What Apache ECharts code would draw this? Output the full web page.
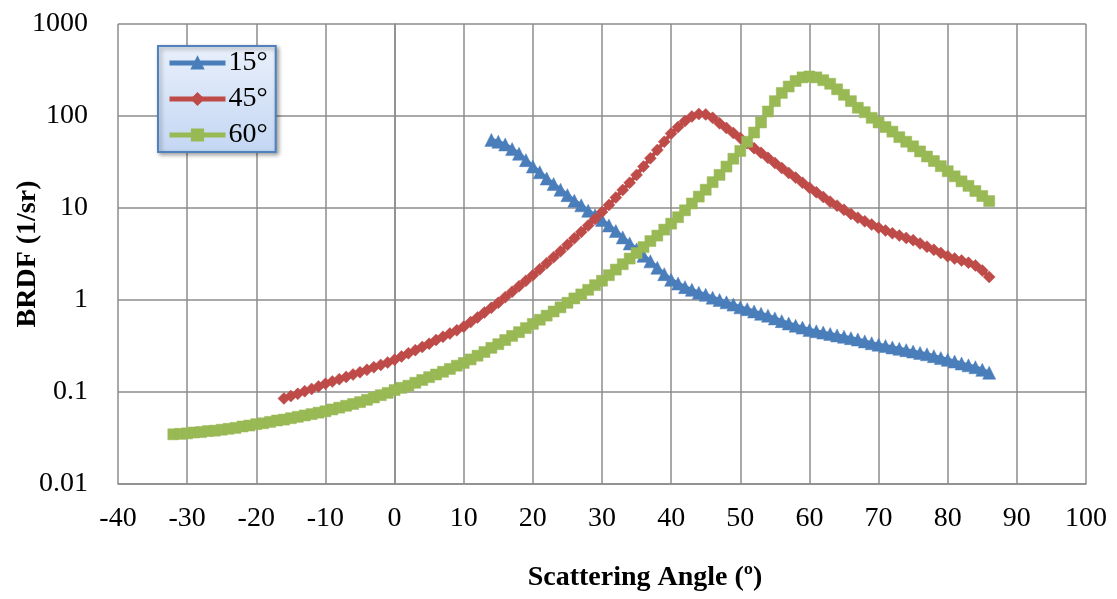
<!DOCTYPE html>
<html>
<head>
<meta charset="utf-8">
<script src="https://cdn.jsdelivr.net/npm/echarts@6/dist/echarts.min.js"></script>
<style>
html,body{margin:0;padding:0;background:#fff;}
#chart{width:1117px;height:599px;}
</style>
</head>
<body>
<div id="chart"></div>
<script>
// ---- data ----
const seriesNames = ['15°', '45°', '60°'];

const angles15 = [14,15,16,17,18,19,20,21,22,23,24,25,26,27,28,29,30,31,32,33,34,35,36,37,38,39,40,41,42,43,44,45,46,47,48,49,50,51,52,53,54,55,56,57,58,59,60,61,62,63,64,65,66,67,68,69,70,71,72,73,74,75,76,77,78,79,80,81,82,83,84,85,86];
const brdf15 = [55.0,52.5,49.0,43.7,38.9,33.1,28.2,24.5,20.9,18.2,15.8,13.8,12.0,10.7,9.33,8.32,7.41,6.46,5.62,4.79,4.12,3.55,3.02,2.63,2.24,1.91,1.66,1.51,1.38,1.29,1.20,1.14,1.06,1.00,0.944,0.891,0.832,0.794,0.750,0.708,0.676,0.631,0.589,0.556,0.525,0.501,0.473,0.457,0.442,0.427,0.412,0.398,0.385,0.372,0.355,0.339,0.327,0.316,0.305,0.295,0.285,0.275,0.266,0.257,0.245,0.234,0.224,0.214,0.204,0.195,0.186,0.174,0.162];

const angles45 = [-16,-15,-14,-13,-12,-11,-10,-9,-8,-7,-6,-5,-4,-3,-2,-1,0,1,2,3,4,5,6,7,8,9,10,11,12,13,14,15,16,17,18,19,20,21,22,23,24,25,26,27,28,29,30,31,32,33,34,35,36,37,38,39,40,41,42,43,44,45,46,47,48,49,50,51,52,53,54,55,56,57,58,59,60,61,62,63,64,65,66,67,68,69,70,71,72,73,74,75,76,77,78,79,80,81,82,83,84,85,86];
const brdf45 = [0.0851,0.0902,0.0955,0.102,0.108,0.115,0.123,0.130,0.138,0.146,0.155,0.164,0.174,0.186,0.197,0.209,0.224,0.243,0.263,0.285,0.309,0.335,0.367,0.398,0.432,0.468,0.513,0.575,0.646,0.733,0.822,0.933,1.07,1.23,1.41,1.62,1.86,2.16,2.51,2.92,3.39,3.98,4.68,5.50,6.46,7.59,9.02,10.8,13.0,15.7,18.8,22.9,28.2,34.7,42.7,52.5,64.6,75.9,88.1,98.9,105,104,95.5,83.2,74.1,65.3,57.5,50.7,44.7,39.8,35.1,30.9,27.2,24.0,21.4,18.8,16.6,14.8,13.2,11.7,10.6,9.55,8.61,7.85,7.16,6.61,6.10,5.69,5.31,5.01,4.73,4.47,4.12,3.80,3.51,3.24,2.99,2.82,2.69,2.54,2.37,2.09,1.78];

const angles60 = [-32,-31,-30,-29,-28,-27,-26,-25,-24,-23,-22,-21,-20,-19,-18,-17,-16,-15,-14,-13,-12,-11,-10,-9,-8,-7,-6,-5,-4,-3,-2,-1,0,1,2,3,4,5,6,7,8,9,10,11,12,13,14,15,16,17,18,19,20,21,22,23,24,25,26,27,28,29,30,31,32,33,34,35,36,37,38,39,40,41,42,43,44,45,46,47,48,49,50,51,52,53,54,55,56,57,58,59,60,61,62,63,64,65,66,67,68,69,70,71,72,73,74,75,76,77,78,79,80,81,82,83,84,85,86];
const brdf60 = [0.0347,0.0351,0.0355,0.0363,0.0367,0.0376,0.0380,0.0389,0.0398,0.0407,0.0422,0.0432,0.0447,0.0457,0.0473,0.0490,0.0501,0.0519,0.0537,0.0556,0.0575,0.0596,0.0617,0.0646,0.0676,0.0708,0.0741,0.0776,0.0822,0.0871,0.0923,0.0977,0.105,0.111,0.117,0.126,0.135,0.145,0.155,0.166,0.178,0.193,0.207,0.226,0.248,0.272,0.302,0.331,0.367,0.407,0.447,0.495,0.550,0.610,0.676,0.750,0.832,0.933,1.04,1.15,1.29,1.45,1.62,1.86,2.14,2.45,2.82,3.24,3.76,4.37,5.01,5.82,6.76,7.94,9.44,11.2,13.3,15.8,19.1,22.9,28.2,34.3,41.7,52.5,66.1,85.1,112,145,178,209,240,263,269,263,245,224,195,170,145,123,110,95.5,85.1,75.9,67.6,58.9,52.5,46.8,41.2,36.3,32.4,28.5,25.1,22.1,19.5,17.4,15.3,13.5,11.9];

const xTicks = [-40,-30,-20,-10,0,10,20,30,40,50,60,70,80,90,100];
const yTickLabels = ['0.01','0.1','1','10','100','1000'];

// ---- chart ----
const FONT = "'Liberation Serif', 'Times New Roman', serif";
const colors = ['#4A7EBB', '#BE4B48', '#98B954'];
const symbols = ['triangle', 'diamond', 'rect'];
const symbolSizes = [13, 12, 11];

function pairs(xs, ys) { return xs.map((x, i) => [x, ys[i]]); }
const allData = [pairs(angles15, brdf15), pairs(angles45, brdf45), pairs(angles60, brdf60)];

const chart = echarts.init(document.getElementById('chart'), null, {renderer: 'canvas'});
const gridColor = '#8C8C8C';

chart.setOption({
  animation: false,
  backgroundColor: '#ffffff',
  textStyle: {fontFamily: FONT},
  grid: {left: 118, right: 31, top: 24, bottom: 115, containLabel: false, outerBoundsMode: 'none'},
  legend: {
    orient: 'vertical',
    left: 158, top: 46,
    padding: [3, 8, 3, 9],
    itemWidth: 56, itemHeight: 14, itemGap: 8,
    data: seriesNames,
    lineStyle: {width: 5},
    textStyle: {fontFamily: FONT, fontSize: 28, color: '#000', padding: [0, 0, 0, -2]},
    backgroundColor: new echarts.graphic.LinearGradient(0, 0, 0, 1, [
      {offset: 0, color: '#E9F0FB'},
      {offset: 1, color: '#C3D6F3'}
    ]),
    borderColor: '#4F81BD', borderWidth: 2,
    shadowColor: 'rgba(0,0,0,0.35)', shadowBlur: 4, shadowOffsetX: 2, shadowOffsetY: 2
  },
  xAxis: {
    type: 'value', min: xTicks[0], max: xTicks[xTicks.length - 1], interval: 10,
    name: 'Scattering Angle (º)', nameLocation: 'middle', nameGap: 80, nameMoveOverlap: false,
    nameTextStyle: {fontFamily: FONT, fontSize: 28, fontWeight: 'bold', color: '#000', padding: [0, 0, 0, 86]},
    axisLine: {show: true, lineStyle: {color: gridColor, width: 1.5}},
    axisTick: {show: false},
    axisLabel: {fontFamily: FONT, fontSize: 28, color: '#000', margin: 21},
    splitLine: {show: true, lineStyle: {color: gridColor, width: 1.5}}
  },
  yAxis: {
    type: 'log', logBase: 10, min: 0.01, max: 1000,
    name: 'BRDF (1/sr)', nameLocation: 'middle', nameGap: 76, nameRotate: 90, nameMoveOverlap: false,
    nameTextStyle: {fontFamily: FONT, fontSize: 28, fontWeight: 'bold', color: '#000'},
    axisLine: {show: true, lineStyle: {color: gridColor, width: 1.5}},
    axisTick: {show: false},
    minorTick: {show: false},
    axisLabel: {
      fontFamily: FONT, fontSize: 28, color: '#000', margin: 30,
      formatter: function (v) {
        const idx = Math.round(Math.log10(v)) + 2;
        return yTickLabels[idx] !== undefined ? yTickLabels[idx] : '';
      }
    },
    splitLine: {show: true, lineStyle: {color: gridColor, width: 1.5}}
  },
  series: seriesNames.map((name, i) => ({
    name: name,
    type: 'line',
    data: allData[i],
    symbol: symbols[i],
    symbolSize: symbolSizes[i],
    showAllSymbol: true,
    lineStyle: {color: colors[i], width: 4},
    itemStyle: {color: colors[i], borderColor: colors[i], borderWidth: 0.5},
    z: 3 + i
  }))
});
</script>
</body>
</html>
